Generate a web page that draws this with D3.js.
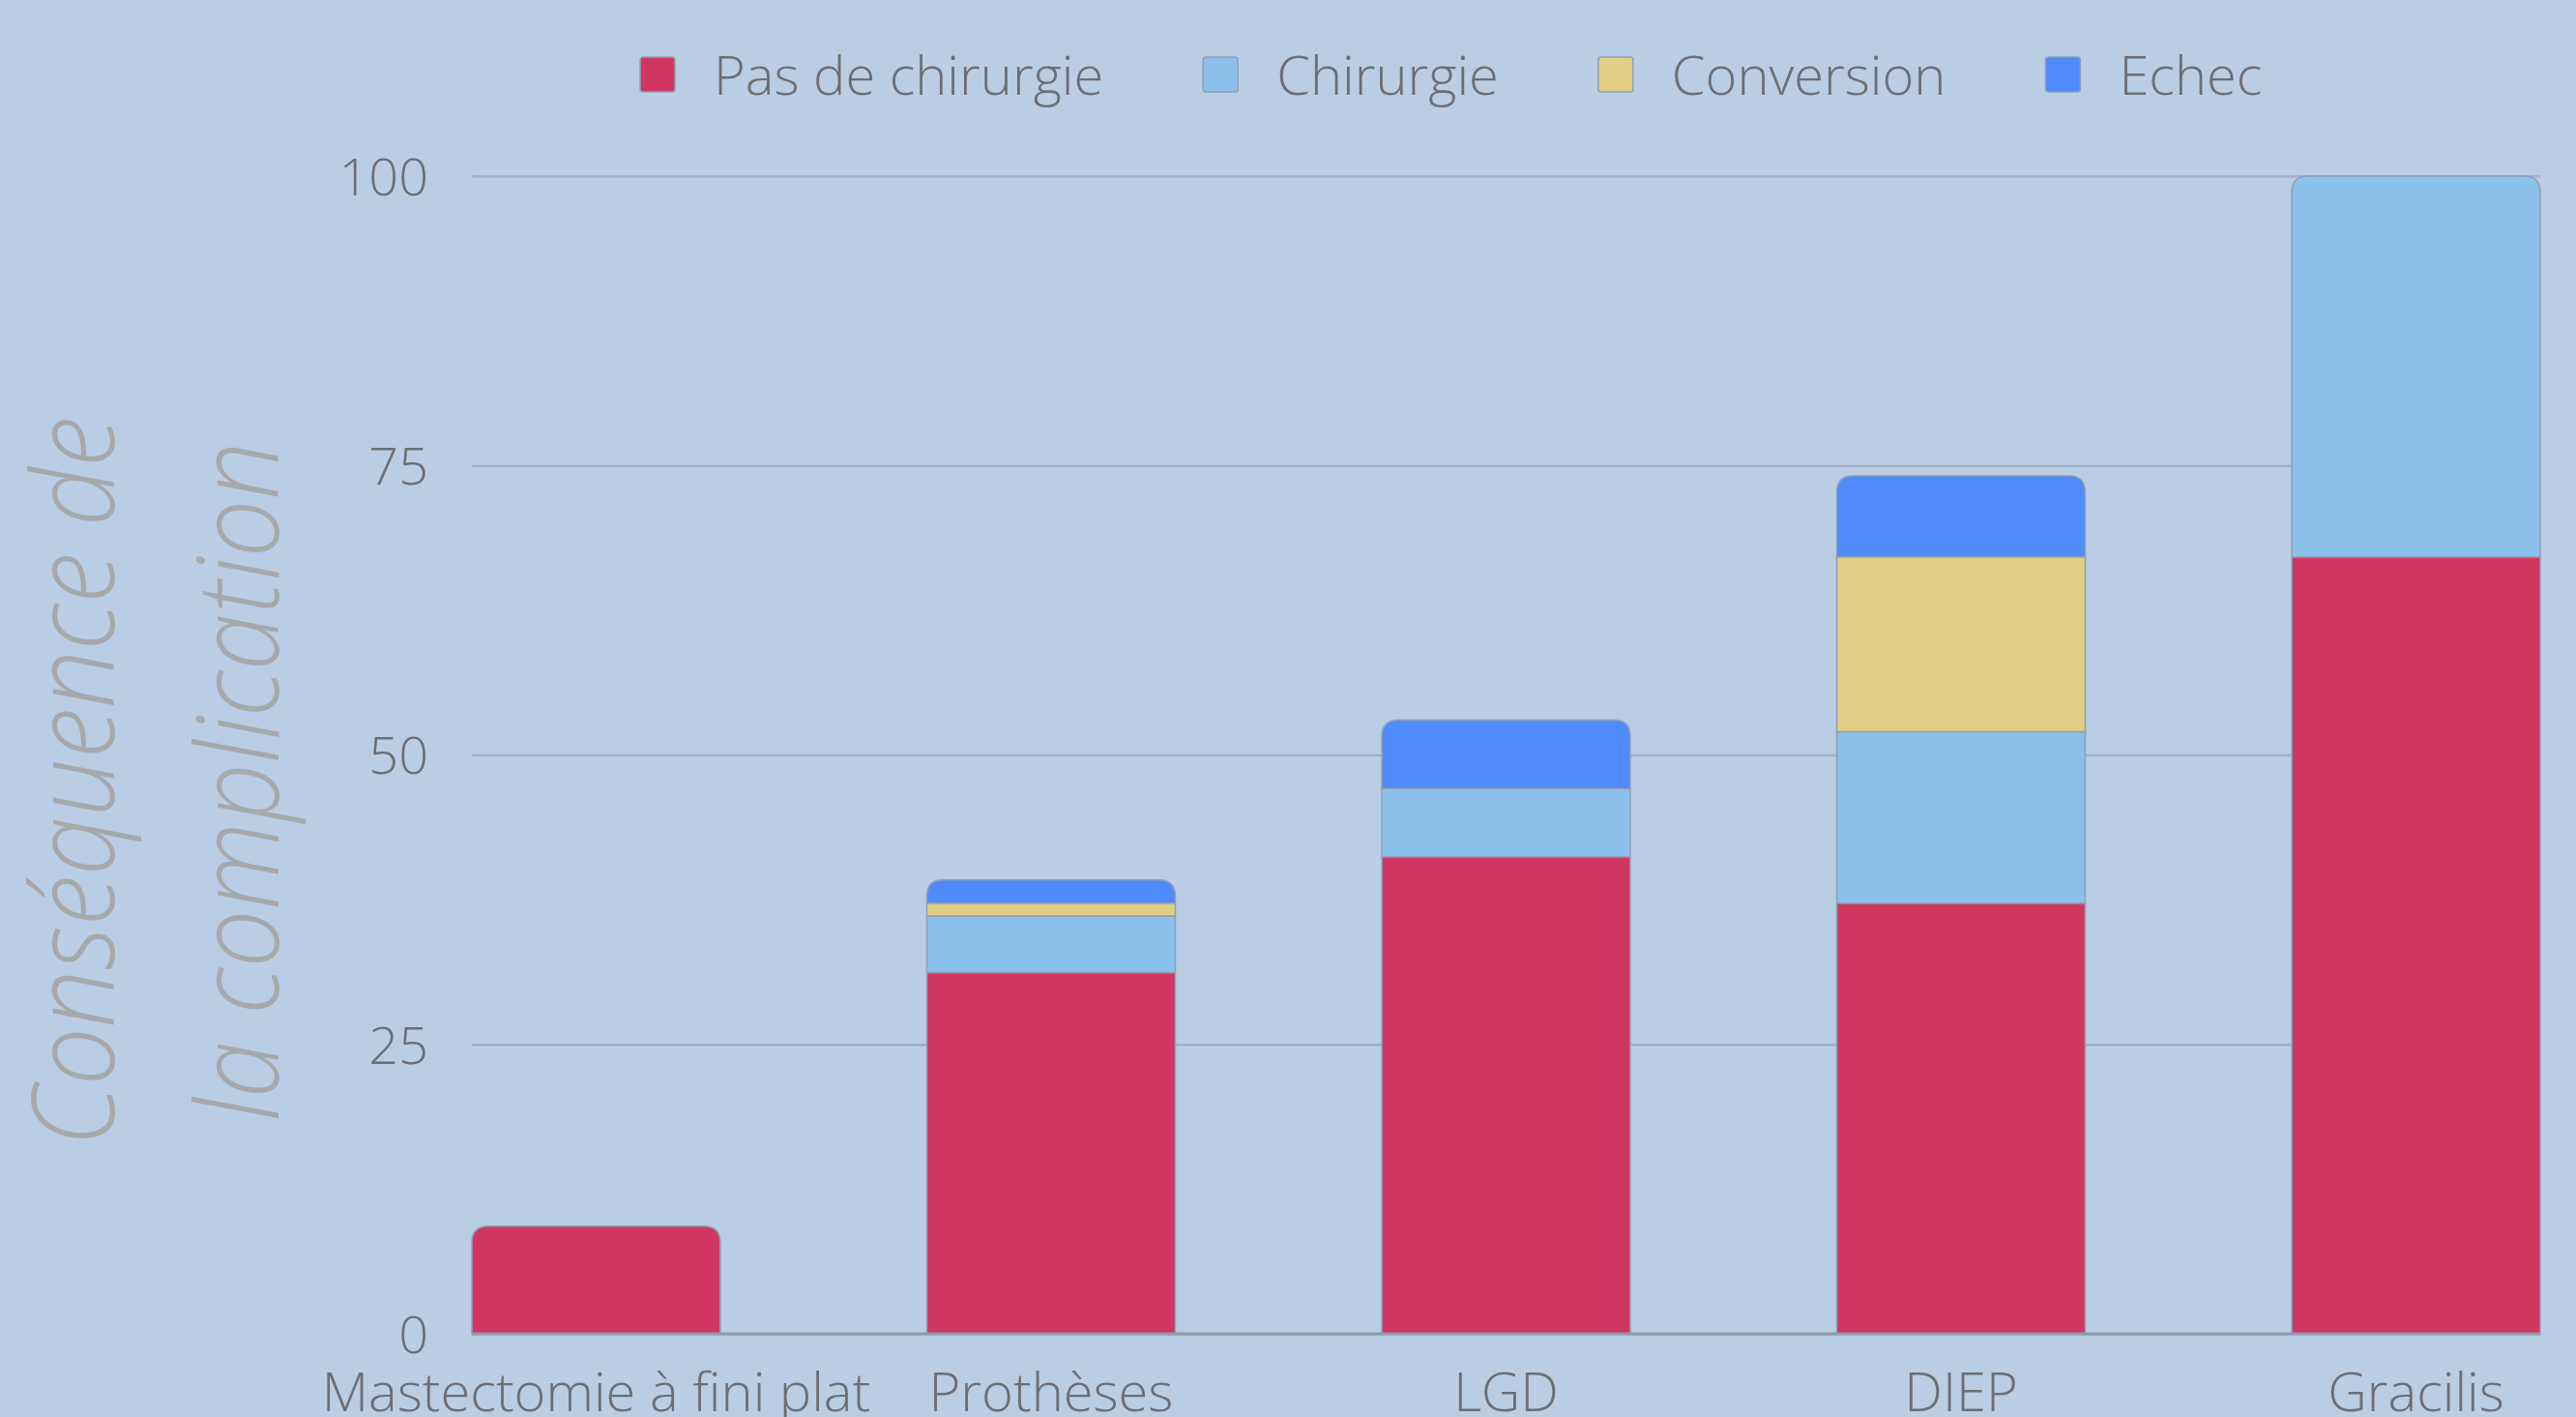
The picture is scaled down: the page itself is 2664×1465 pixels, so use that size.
<!DOCTYPE html>
<html>
<head>
<meta charset="utf-8">
<script src="https://cdn.jsdelivr.net/npm/d3@7"></script>
<style>
  html, body { margin: 0; padding: 0; background: #b9cde5; }
  svg { display: block; font-family: 'Open Sans', sans-serif; }
</style>
</head>
<body>
<div id="chart"></div>
<script>
// data (percent)
var categories = ['Mastectomie à fini plat', 'Prothèses', 'LGD', 'DIEP', 'Gracilis']
var pasDeChirurgie = [9.3, 31.2, 41.2, 37.2, 67.1]
var chirurgie = [0, 4.9, 5.9, 14.8, 32.9]
var conversion = [0, 1.1, 0, 15.1, 0]
var echec = [0, 2.0, 5.9, 7.0, 0]

var seriesNames = ['Pas de chirurgie', 'Chirurgie', 'Conversion', 'Echec']
var seriesColors = ['#cf3760', '#8bc0eb', '#e0cf84', '#4f8bfa']
var yTicks = [0, 25, 50, 75, 100]

var totalWidth = 2664
var totalHeight = 1465
var margin = { top: 182, left: 488, right: 37, bottom: 86 }
var width = totalWidth - margin.left - margin.right
var height = totalHeight - margin.top - margin.bottom

var rows = categories.map(function(c, i) {
  return {
    cat: c,
    'Pas de chirurgie': pasDeChirurgie[i],
    'Chirurgie': chirurgie[i],
    'Conversion': conversion[i],
    'Echec': echec[i]
  }
})

var stacked = d3.stack().keys(seriesNames)(rows)

var xPositionScale = d3
  .scaleBand()
  .domain(categories)
  .range([0, width])
  .paddingInner(0.454)
  .paddingOuter(0)

var yPositionScale = d3
  .scaleLinear()
  .domain([0, 100])
  .range([height, 0])

var colorScale = d3.scaleOrdinal().domain(seriesNames).range(seriesColors)

var svg = d3
  .select('#chart')
  .append('svg')
  .attr('width', totalWidth)
  .attr('height', totalHeight)

svg
  .append('rect')
  .attr('width', totalWidth)
  .attr('height', totalHeight)
  .attr('fill', '#b9cde5')

var g = svg
  .append('g')
  .attr('transform', 'translate(' + margin.left + ',' + margin.top + ')')

// gridlines + y labels
var yAxis = d3
  .axisLeft(yPositionScale)
  .tickValues(yTicks)
  .tickSize(-width)
  .tickPadding(45)

g.append('g')
  .attr('class', 'axis y-axis')
  .call(yAxis)
  .call(function(sel) {
    sel.select('.domain').remove()
    sel.selectAll('line')
      .attr('stroke', '#9fb2c9')
      .attr('stroke-width', 2.5)
    sel.selectAll('text')
      .attr('fill', '#6b6e73')
      .attr('font-size', 54)
      .attr('font-weight', 300)
      .attr('font-family', "'Open Sans', sans-serif")
      .attr('dy', '0.36em')
  })

// which key is the top of each stack -> that one gets round corners
function topKey(row) {
  var k = null
  seriesNames.forEach(function(name) {
    if (row[name] > 0) k = name
  })
  return k
}

function roundedTop(x, y, w, h, r) {
  r = Math.min(r, h, w / 2)
  return 'M' + x + ',' + (y + h) +
    'V' + (y + r) +
    'Q' + x + ',' + y + ' ' + (x + r) + ',' + y +
    'H' + (x + w - r) +
    'Q' + (x + w) + ',' + y + ' ' + (x + w) + ',' + (y + r) +
    'V' + (y + h) + 'Z'
}

stacked.forEach(function(layer) {
  var key = layer.key
  g.append('g')
    .attr('class', 'series')
    .selectAll('path')
    .data(layer.filter(function(d) { return d[1] - d[0] > 0 }))
    .enter()
    .append('path')
    .attr('d', function(d) {
      var x = xPositionScale(d.data.cat)
      var w = xPositionScale.bandwidth()
      var y = yPositionScale(d[1])
      var h = yPositionScale(d[0]) - yPositionScale(d[1])
      var r = topKey(d.data) === key ? 17 : 0
      return roundedTop(x, y, w, h, r)
    })
    .attr('fill', colorScale(key))
    .attr('stroke', '#8fa0b6')
    .attr('stroke-width', 1.5)
})

// baseline
g.append('line')
  .attr('x1', 0)
  .attr('x2', width)
  .attr('y1', height)
  .attr('y2', height)
  .attr('stroke', '#8e9bab')
  .attr('stroke-width', 3)

// x labels
var xAxis = d3.axisBottom(xPositionScale).tickSize(0).tickPadding(0)
g.append('g')
  .attr('class', 'axis x-axis')
  .attr('transform', 'translate(0,' + height + ')')
  .call(xAxis)
  .call(function(sel) {
    sel.select('.domain').remove()
    sel.selectAll('text')
      .attr('fill', '#6b6e73')
      .attr('font-size', 56)
      .attr('font-weight', 300)
      .attr('font-family', "'Open Sans', sans-serif")
      .attr('dy', null)
      .attr('y', 80)
  })

// y title, two lines (condensed look)
var titleLines = ['Conséquence de', 'la complication']
var titleX = [118, 288]
titleLines.forEach(function(t, i) {
  svg
    .append('text')
    .attr('transform', 'translate(' + titleX[i] + ',808) rotate(-90) scale(0.9,1)')
    .attr('text-anchor', 'middle')
    .attr('font-size', 118)
    .attr('font-style', 'italic')
    .attr('font-weight', 300)
    .attr('fill', '#a7a8aa')
    .text(t)
})

// legend
var legend = svg.append('g').attr('class', 'legend')
var lx = 662
seriesNames.forEach(function(name) {
  var item = legend.append('g').attr('transform', 'translate(' + lx + ',0)')
  item
    .append('rect')
    .attr('x', 0)
    .attr('y', 59)
    .attr('width', 36)
    .attr('height', 36)
    .attr('rx', 3)
    .attr('fill', colorScale(name))
    .attr('stroke', '#8fa0b6')
    .attr('stroke-width', 1.5)
  var txt = item
    .append('text')
    .attr('x', 76)
    .attr('y', 98)
    .attr('font-size', 56)
    .attr('font-weight', 300)
    .attr('fill', '#6b6e73')
    .text(name)
  lx += 76 + txt.node().getComputedTextLength() + 103
})
</script>
</body>
</html>
